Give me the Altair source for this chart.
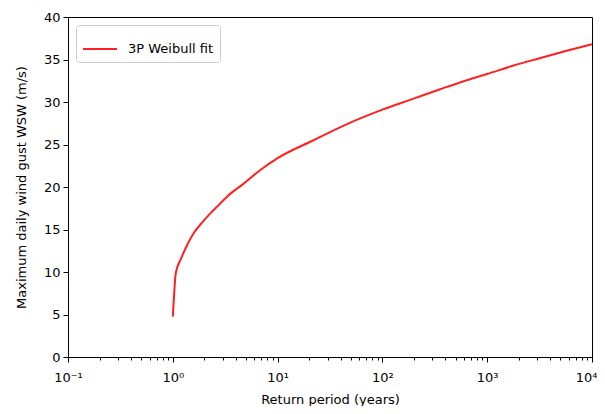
import altair as alt
import pandas as pd

return_period = [1.0, 1.03, 1.057, 1.1, 1.18, 1.35, 1.58, 1.9, 2.28, 2.75, 3.29, 4.74, 6.84, 10.0,
                 22.0, 45.9, 100.0, 198.6, 355.0, 596.0, 1000.0, 1790.0, 3160.0, 5620.0, 10000.0]
wind_gust = [4.75, 7.4, 9.45, 10.5, 11.4, 13.0, 14.55, 15.8, 16.9, 17.9, 18.86, 20.4, 22.0, 23.4,
             25.5, 27.4, 29.1, 30.4, 31.5, 32.45, 33.3, 34.3, 35.15, 36.0, 36.8]
series_name = ["3P Weibull fit"] * len(return_period)

major_x = [0.1, 1, 10, 100, 1000, 10000]
minor_x = [m * d for d in [0.1, 1, 10, 100, 1000] for m in [2, 3, 4, 5, 6, 7, 8, 9]]
x_ticks = major_x + minor_x
y_ticks = [0, 5, 10, 15, 20, 25, 30, 35, 40]

df = pd.DataFrame({"rp": return_period, "gust": wind_gust, "series": series_name})

label_expr = ("datum.value == 0.1 ? '10⁻¹' : datum.value == 1 ? '10⁰' : datum.value == 10 ? '10¹' : "
              "datum.value == 100 ? '10²' : datum.value == 1000 ? '10³' : datum.value == 10000 ? '10⁴' : ''")
major_test = "indexof([0.1, 1, 10, 100, 1000, 10000], datum.value) >= 0"

chart = alt.Chart(df).mark_line(strokeWidth=2, interpolate="monotone").encode(
    x=alt.X("rp:Q",
            scale=alt.Scale(type="log", domain=[0.1, 10000], nice=False),
            axis=alt.Axis(values=x_ticks, labelExpr=label_expr, title="Return period (years)",
                          labelOverlap=False, labelFlush=False, labelBound=False, grid=False,
                          tickSize={"condition": {"test": major_test, "value": 5}, "value": 3},
                          labelOffset={"condition": {"test": "datum.value == 10000", "value": -6}, "value": 0},
                          labelPadding=9, titlePadding=9)),
    y=alt.Y("gust:Q",
            scale=alt.Scale(domain=[0, 40], nice=False, zero=True),
            axis=alt.Axis(values=y_ticks, title="Maximum daily wind gust WSW (m/s)", grid=False,
                          tickSize=5, labelPadding=3, titlePadding=15)),
    color=alt.Color("series:N", scale=alt.Scale(range=["#ff2020"]),
                    legend=alt.Legend(title=None, orient="none", legendX=8, legendY=8,
                                      symbolType="stroke", symbolSize=1156, symbolStrokeWidth=2,
                                      labelFontSize=13, labelFont="DejaVu Sans", labelColor="black",
                                      labelOffset=10, padding=6, fillColor="white",
                                      strokeColor="#cccccc", cornerRadius=3)),
).properties(
    width=524, height=340,
    autosize=alt.AutoSizeParams(type="none"),
    padding={"left": 60, "top": 9, "right": 5, "bottom": 49},
).configure_view(
    stroke="black", strokeWidth=1
).configure_axis(
    domainColor="black", tickColor="black", labelColor="black", titleColor="black",
    labelFont="DejaVu Sans", titleFont="DejaVu Sans", labelFontSize=13, titleFontSize=13,
    titleFontWeight="normal", domainWidth=1, tickWidth=1
)

chart.save("out.html", embed_options={"renderer": "svg", "actions": False})
